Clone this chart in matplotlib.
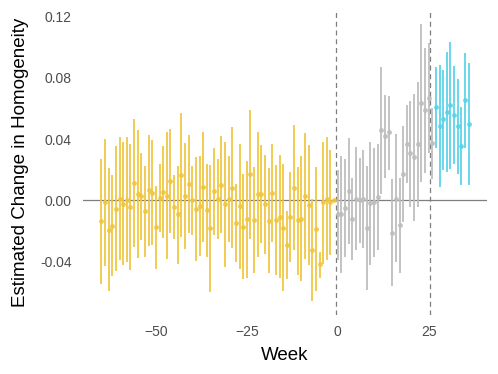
import matplotlib
matplotlib.use("Agg")
import matplotlib.pyplot as plt
import numpy as np

plt.rcParams['font.family'] = ['Liberation Sans', 'DejaVu Sans']

# weeks relative to event; -1 is the reference week
pre_weeks = list(range(-65, 0))
pre_est = [-0.0136, -0.0013, -0.0192, -0.0166, -0.0055, 0.0011, -0.0022, 0.0000, -0.0042, 0.0114,
           0.0044, 0.0026, -0.0072, 0.0066, 0.0048, -0.0177, 0.0013, 0.0052, 0.0031, 0.0125,
           -0.0046, -0.0092, 0.0166, 0.0031, 0.0109, 0.0000, -0.0057, -0.0039, 0.0085, -0.0063,
           -0.0184, 0.0059, 0.0007, 0.0103, -0.0024, 0.0009, 0.0083, -0.0151, -0.0039, -0.0173,
           -0.0125, 0.0171, -0.0131, 0.0039, 0.0042, -0.0026, -0.0133, 0.0046, -0.0127, -0.0109,
           -0.0179, -0.0295, -0.0111, 0.0081, -0.0131, -0.0122, 0.0026, -0.0031, -0.0324, -0.0188,
           -0.0420, -0.0013, 0.0009, -0.0011, 0.0000]
pre_lo = [-0.0546, -0.0431, -0.0595, -0.0498, -0.0463, -0.0391, -0.0426, -0.0407, -0.0455, -0.0308,
          -0.0376, -0.0262, -0.0374, -0.0299, -0.0295, -0.0450, -0.0210, -0.0249, -0.0387, -0.0216,
          -0.0256, -0.0418, -0.0243, -0.0317, -0.0212, -0.0230, -0.0398, -0.0367, -0.0275, -0.0369,
          -0.0599, -0.0227, -0.0256, -0.0214, -0.0437, -0.0273, -0.0313, -0.0407, -0.0448, -0.0518,
          -0.0509, -0.0254, -0.0479, -0.0369, -0.0280, -0.0354, -0.0477, -0.0273, -0.0490, -0.0507,
          -0.0595, -0.0516, -0.0404, -0.0328, -0.0487, -0.0531, -0.0387, -0.0426, -0.0660, -0.0597,
          -0.0507, -0.0415, -0.0389, -0.0361, 0.0000]
pre_hi = [0.0271, 0.0404, 0.0208, 0.0166, 0.0354, 0.0411, 0.0378, 0.0411, 0.0369, 0.0529,
          0.0457, 0.0310, 0.0225, 0.0426, 0.0391, 0.0092, 0.0236, 0.0354, 0.0446, 0.0466,
          0.0162, 0.0227, 0.0573, 0.0372, 0.0426, 0.0223, 0.0282, 0.0289, 0.0446, 0.0238,
          0.0230, 0.0341, 0.0269, 0.0418, 0.0383, 0.0291, 0.0477, 0.0105, 0.0367, 0.0175,
          0.0260, 0.0590, 0.0216, 0.0446, 0.0361, 0.0299, 0.0208, 0.0365, 0.0232, 0.0293,
          0.0238, -0.0072, 0.0184, 0.0490, 0.0219, 0.0289, 0.0442, 0.0361, 0.0011, 0.0219,
          -0.0339, 0.0383, 0.0411, 0.0332, 0.0000]

mid_weeks = list(range(0, 27))
mid_est = [-0.0092, -0.0092, -0.0048, 0.0059, -0.0122, 0.0011, 0.0000, 0.0009, -0.0184, -0.0020,
           -0.0009, 0.0022, 0.0457, 0.0420, 0.0444, -0.0212, 0.0011, -0.0164, 0.0173, 0.0367,
           0.0306, 0.0284, 0.0367, 0.0636, 0.0592, 0.0667, 0.0374]
mid_lo = [-0.0389, -0.0477, -0.0372, -0.0286, -0.0391, -0.0326, -0.0278, -0.0313, -0.0590, -0.0426,
          -0.0372, -0.0324, 0.0044, 0.0146, 0.0197, -0.0564, -0.0402, -0.0477, -0.0140, 0.0114,
          -0.0044, -0.0138, -0.0044, 0.0120, 0.0181, 0.0306, 0.0142]
mid_hi = [0.0197, 0.0291, 0.0267, 0.0407, 0.0144, 0.0348, 0.0278, 0.0330, 0.0225, 0.0378,
          0.0345, 0.0367, 0.0874, 0.0689, 0.0682, 0.0138, 0.0431, 0.0146, 0.0485, 0.0623,
          0.0649, 0.0695, 0.0776, 0.1154, 0.0999, 0.1032, 0.0601]

post_weeks = list(range(27, 37))
post_est = [0.0608, 0.0485, 0.0533, 0.0577, 0.0621, 0.0557, 0.0485, 0.0356, 0.0656, 0.0498]
post_lo = [0.0345, 0.0085, 0.0197, 0.0184, 0.0203, 0.0238, 0.0175, 0.0098, 0.0345, 0.0098]
post_hi = [0.0870, 0.0883, 0.0853, 0.0968, 0.1034, 0.0877, 0.0791, 0.0612, 0.0962, 0.0901]

cutoffs = [-0.5, 25.5]

groups = [
    (pre_weeks, pre_est, pre_lo, pre_hi, '#F0C63F'),
    (mid_weeks, mid_est, mid_lo, mid_hi, '#BDBDBD'),
    (post_weeks, post_est, post_lo, post_hi, '#5AD2EA'),
]

fig = plt.figure(figsize=(4.98, 3.74), dpi=100)
ax = fig.add_axes([83 / 498, 59 / 374, 404 / 498, 305 / 374])

ax.axhline(0, color='#7F7F7F', linewidth=0.9, zorder=1)
for c in cutoffs:
    ax.axvline(c, color='#7F7F7F', linewidth=0.9, linestyle=(0, (4, 3)), zorder=1)

for weeks, est, lo, hi, col in groups:
    ax.vlines(weeks, lo, hi, color=col, linewidth=1.4, alpha=0.9, zorder=2)
    ax.plot(weeks, est, 'o', color=col, markersize=2.5, alpha=0.85, zorder=3)

ax.set_xlim(-70.05, 41.05)
ax.set_ylim(-0.0751, 0.1245)
ax.set_xticks([-50, -25, 0, 25])
ax.set_yticks([-0.04, 0.0, 0.04, 0.08, 0.12])
ax.set_yticklabels(['-0.04', '0.00', '0.04', '0.08', '0.12'])
ax.tick_params(axis='x', length=0, labelsize=10, labelcolor='#4D4D4D', pad=7)
ax.tick_params(axis='y', length=0, labelsize=10, labelcolor='#4D4D4D', pad=8)
for s in ax.spines.values():
    s.set_visible(False)
ax.set_xlabel('Week', fontsize=13.5, labelpad=6)
ax.set_ylabel('Estimated Change in Homogeneity', fontsize=13.5, labelpad=8)

fig.savefig('out.png', dpi=100)
